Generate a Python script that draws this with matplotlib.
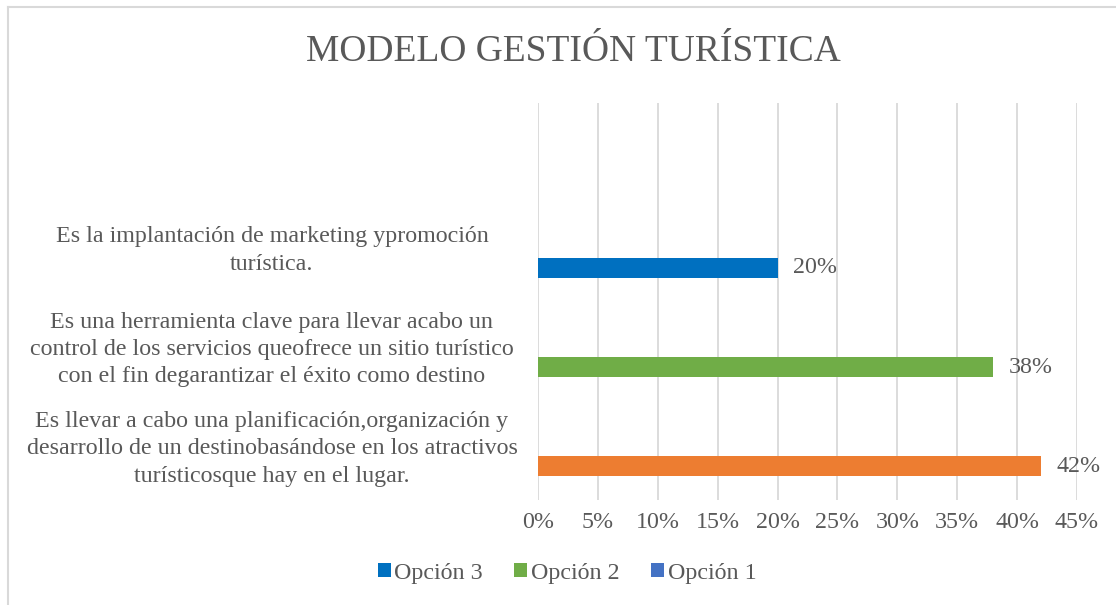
import matplotlib.pyplot as plt
from matplotlib.patches import Patch
from matplotlib.lines import Line2D

plt.rcParams['font.family'] = ['Liberation Serif', 'DejaVu Serif']

# datos
categorias = [
    "Es llevar a cabo una planificación,organización y\ndesarrollo de un destinobasándose en los atractivos\nturísticosque hay en el lugar.",
    "Es una herramienta clave para llevar acabo un\ncontrol de los servicios queofrece un sitio turístico\ncon el fin degarantizar el éxito como destino",
    "Es la implantación de marketing ypromoción\nturística.",
    "",
]
valores = [0.42, 0.38, 0.20]
colores_barras = ['#ED7D31', '#70AD47', '#0070C0']
series = ['Opción 3', 'Opción 2', 'Opción 1']
colores_series = ['#0070C0', '#70AD47', '#4472C4']
ticks = [0, 0.05, 0.10, 0.15, 0.20, 0.25, 0.30, 0.35, 0.40, 0.45]

gris = '#595959'
fs = 17.3

fig = plt.figure(figsize=(11.16, 6.05), dpi=100)
ax = fig.add_axes([538 / 1116, 1 - 500 / 605, (1077 - 538) / 1116, (500 - 103) / 605])

pos = list(range(len(categorias)))
ax.barh([p - 0.16 for p in pos[:len(valores)]], valores, height=0.2,
        color=colores_barras, zorder=3)

for p, v in zip(pos, valores):
    ax.text(v + 0.013, p - 0.16, f'{v:.0%}', va='center', ha='left',
            fontsize=fs, color=gris)

ax.set_xlim(0, 0.45)
ax.set_ylim(-0.5, len(categorias) - 0.5)
ax.set_xticks(ticks)
ax.set_xticklabels([f'{t:.0%}' for t in ticks], fontsize=fs, color=gris)
ax.set_yticks([p + 0.07 for p in pos])
ax.set_yticklabels(categorias, fontsize=fs, color=gris, ha='center',
                   linespacing=1.38)
# pad en puntos: centro de las etiquetas en x ~ 272 px
ax.tick_params(axis='y', length=0, pad=(538 - 272) * 72 / 100)
ax.tick_params(axis='x', length=0, pad=9)
ax.grid(axis='x', color='#D9D9D9', linewidth=1.3, zorder=0)
for s in ax.spines.values():
    s.set_visible(False)

fig.text(573 / 1116, 1 - 52 / 605, 'MODELO GESTIÓN TURÍSTICA', ha='center',
         va='center', fontsize=27, color=gris)

handles = [Patch(facecolor=c) for c in colores_series]
fig.legend(handles, series, loc='center', bbox_to_anchor=(567 / 1116, 1 - 573 / 605),
           ncol=3, frameon=False, fontsize=fs, handlelength=0.55, handleheight=0.55,
           handletextpad=0.15, columnspacing=1.3, labelcolor=gris)

# borde del gráfico
fig.add_artist(Line2D([8 / 1116, 1], [1 - 7 / 605, 1 - 7 / 605], color='#D9D9D9', linewidth=1.5))
fig.add_artist(Line2D([8 / 1116, 8 / 1116], [0, 1 - 7 / 605], color='#D9D9D9', linewidth=1.5))

fig.savefig('out.png', dpi=100)
